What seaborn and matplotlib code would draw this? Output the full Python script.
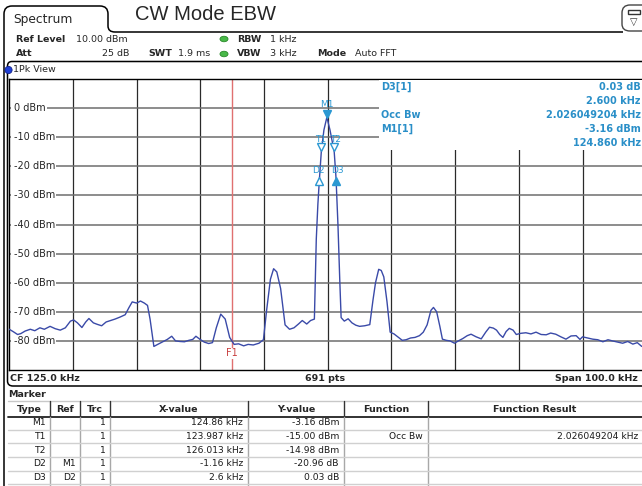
import numpy as np
import pandas as pd
import seaborn as sns
import matplotlib.pyplot as plt
from matplotlib.path import Path
from matplotlib.patches import PathPatch, Rectangle, Circle, Ellipse
from matplotlib.transforms import offset_copy

# trace 1 (peak detector)
freq_khz = [75.0, 75.6, 76.3, 76.8, 77.5, 78.3, 79.0, 79.8, 80.5, 81.4,
            82.2, 83.0, 83.8, 84.6, 85.1, 85.7, 86.4, 87.0, 87.5, 88.2,
            88.8, 89.5, 90.2, 90.9, 91.6, 92.4, 93.2, 93.8, 94.3, 95.0,
            95.6, 96.2, 96.7, 97.1, 97.7, 98.3, 99.2, 99.8, 100.5, 101.1,
            101.8, 102.5, 103.2, 103.8, 104.3, 104.9, 105.6, 106.3, 106.9, 107.5,
            108.2, 108.9, 109.6, 110.3, 111.0, 111.8, 112.5, 113.3, 114.2, 114.9,
            115.4, 116.0, 116.5, 117.0, 117.6, 118.3, 119.0, 119.7, 120.4, 121.0,
            121.7, 122.3, 122.9, 123.2, 123.45, 123.7, 123.987, 124.4, 124.86, 125.35,
            126.013, 126.3, 126.6, 126.9, 127.1, 127.6, 128.2, 128.8, 129.4, 130.0,
            130.8, 131.6, 132.1, 132.5, 133.0, 133.4, 133.8, 134.3, 134.8, 135.4,
            136.0, 136.7, 137.3, 138.0, 138.7, 139.4, 140.0, 140.6, 141.2, 141.6,
            142.1, 142.6, 143.0, 143.6, 144.2, 144.9, 145.5, 146.2, 146.9, 147.5,
            148.3, 149.1, 149.8, 150.4, 151.0, 151.5, 152.0, 152.5, 153.0, 153.5,
            154.1, 154.6, 155.3, 156.1, 156.9, 157.7, 158.5, 159.3, 160.0, 160.8,
            161.6, 162.4, 163.2, 164.0, 164.6, 165.0, 165.8, 166.6, 167.4, 168.2,
            169.0, 169.7, 170.5, 171.3, 172.1, 172.9, 173.6, 174.3]
level_dbm = [-76.0, -76.8, -77.8, -77.5, -76.6, -76.0, -76.5, -75.5, -76.0, -75.0,
             -75.8, -76.3, -75.5, -73.2, -72.8, -73.8, -75.4, -73.5, -72.3, -73.8,
             -74.3, -74.8, -73.5, -73.0, -72.5, -71.8, -71.0, -68.5, -66.6, -67.0,
             -66.3, -67.0, -67.8, -72.5, -81.9, -81.2, -80.2, -79.5, -78.4, -80.0,
             -80.2, -80.3, -79.8, -79.5, -78.4, -79.4, -80.4, -80.9, -80.6, -75.5,
             -70.8, -72.5, -78.8, -81.2, -81.0, -81.7, -81.2, -81.4, -80.8, -79.6,
             -69.5, -58.8, -55.2, -56.3, -62.0, -74.5, -76.0, -75.5, -74.2, -73.0,
             -74.2, -73.0, -72.5, -45.0, -33.0, -24.12, -15.0, -7.5, -3.16, -7.5,
             -14.98, -24.09, -40.0, -60.0, -72.0, -73.2, -72.4, -73.8, -74.6, -75.0,
             -74.8, -74.4, -66.0, -60.0, -55.4, -55.8, -58.0, -66.5, -77.0, -77.6,
             -78.6, -79.8, -79.6, -79.0, -78.8, -78.2, -77.0, -74.5, -69.5, -68.5,
             -70.0, -75.0, -79.4, -79.8, -80.0, -80.8, -80.0, -79.2, -78.2, -77.7,
             -78.6, -79.3, -77.0, -75.3, -75.6, -76.3, -77.8, -78.8, -76.8, -75.7,
             -76.3, -77.8, -77.4, -77.2, -77.6, -77.0, -77.8, -77.9, -77.3, -77.7,
             -78.6, -79.4, -78.3, -78.2, -79.5, -78.6, -79.0, -79.4, -79.6, -80.3,
             -79.6, -80.0, -80.4, -80.8, -80.2, -81.1, -80.6, -81.9]

marker_names = ['M1', 'T1', 'T2', 'D2', 'D3']
marker_freq = [124.86, 123.987, 126.013, 123.70, 126.30]
marker_level = [-3.16, -15.00, -14.98, -24.12, -24.09]
f1_khz = 110.0

grid_freq = [85, 95, 105, 115, 125, 135, 145, 155, 165]
grid_level = [0, -10, -20, -30, -40, -50, -60, -70, -80]

info_left = ['D3[1]', '', 'Occ Bw', 'M1[1]', '']
info_right = ['0.03 dB', '2.600 kHz', '2.026049204 kHz', '-3.16 dBm', '124.860 kHz']

tbl_header = ['Type', 'Ref', 'Trc', 'X-value', 'Y-value', 'Function', 'Function Result']
tbl_type = ['M1', 'T1', 'T2', 'D2', 'D3']
tbl_ref = ['', '', '', 'M1', 'D2']
tbl_trc = ['1', '1', '1', '1', '1']
tbl_x = ['124.86 kHz', '123.987 kHz', '126.013 kHz', '-1.16 kHz', '2.6 kHz']
tbl_y = ['-3.16 dBm', '-15.00 dBm', '-14.98 dBm', '-20.96 dB', '0.03 dB']
tbl_func = ['', 'Occ Bw', '', '', '']
tbl_result = ['', '2.026049204 kHz', '', '', '']

sns.set_style('white')
plt.rcParams['font.family'] = ['DejaVu Sans']

W, H = 642, 486
fig = plt.figure(figsize=(6.42, 4.86), dpi=100)

# spectrum area in pixel terms: x 9.3..642, y 79..370
ax = fig.add_axes([9.3 / W, (H - 370) / H, (W - 9.3) / W, 291 / H])
ax.set_zorder(1)
ax.set_xlim(75, 174.34)
ax.set_ylim(-90, 10)
ax.set_xticks([])
ax.set_yticks([])
for s in ['top', 'left', 'bottom']:
    ax.spines[s].set_color('black')
    ax.spines[s].set_linewidth(1.0)
ax.spines['right'].set_visible(False)

for f in grid_freq:
    ax.axvline(f, color='#2a2a2a', lw=0.9, zorder=1)
for lv in grid_level:
    ax.axhline(lv, color='#6e6e6e', lw=1.1, zorder=1)

ax.axvline(f1_khz, color='#e07070', lw=1.0, zorder=2)
ax.text(f1_khz, -84.3, 'F1', ha='center', va='center', color='#c84040', fontsize=7,
        zorder=3, bbox=dict(fc='white', ec='none', pad=0.4))

# level labels sit inside the grid and hide the start of each line
ytr = ax.get_yaxis_transform()
for lv in grid_level:
    ax.add_patch(Rectangle((0.002, lv - 2.2), 0.009, 4.4, transform=ytr,
                           fc='white', ec='none', zorder=2))
    ax.text(0.0075, lv, f'{lv} dBm', transform=ytr, ha='left', va='center', fontsize=7,
            zorder=3, bbox=dict(fc='white', ec='none', pad=0.8))

sns.lineplot(x=freq_khz, y=level_dbm, ax=ax, color='#3a4aa8', lw=1.0, zorder=4)

# marker symbols
mk_col = '#2b98d2'
styles = {
    'M1': ('v', True, 3.5, 13.0, 0),
    'T1': ('v', False, 4.5, 12.5, -1),
    'T2': ('v', False, 4.5, 12.5, 1),
    'D2': ('^', False, -2.5, 7.5, -1),
    'D3': ('^', True, -2.5, 7.5, 1),
}
for name, f, lv in zip(marker_names, marker_freq, marker_level):
    sym, filled, dy, dyl, dxl = styles[name]
    tr = offset_copy(ax.transData, fig=fig, x=0, y=dy, units='dots')
    ax.plot([f], [lv], marker=sym, ms=5.5, mec=mk_col, mfc=mk_col if filled else 'white',
            mew=1.0, transform=tr, zorder=5, ls='none')
    trl = offset_copy(ax.transData, fig=fig, x=dxl, y=dyl, units='dots')
    ax.text(f, lv, name, transform=trl, ha='center', va='center', color=mk_col,
            fontsize=6.5, zorder=5)

# overlay in pixel coordinates for the instrument frame
ov = fig.add_axes([0, 0, 1, 1])
ov.set_zorder(2)
ov.set_xlim(0, W)
ov.set_ylim(H, 0)
ov.axis('off')

M, L, C = Path.MOVETO, Path.LINETO, Path.CURVE3
tab = Path([(4, 486), (4, 14), (4, 6), (12, 6), (100, 6), (108, 6), (108, 14),
            (108, 26), (108, 32), (115, 32), (623, 32)],
           [M, L, C, C, L, C, C, L, C, C, L])
ov.add_patch(PathPatch(tab, fill=False, ec='black', lw=1.1))
box = Path([(650, 61.5), (12, 61.5), (7.5, 61.5), (7.5, 66), (7.5, 381), (7.5, 386),
            (13, 386), (650, 386)],
           [M, L, C, C, L, C, C, L])
ov.add_patch(PathPatch(box, fill=False, ec='black', lw=1.1))

# icon at top right
icon = Path([(650, 5), (630, 5), (622, 5), (622, 13), (622, 24), (622, 31), (630, 31), (650, 31)],
            [M, L, C, C, L, C, C, L])
ov.add_patch(PathPatch(icon, fill=False, ec='#444444', lw=1.0))
ov.add_patch(Rectangle((628, 10), 12, 4, fc='white', ec='#333333', lw=1.0))
ov.text(634, 22, '\u25bd', ha='center', va='center', fontsize=7, color='#333333')

ov.text(13, 20, 'Spectrum', ha='left', va='center', fontsize=8.8)
ov.text(135, 15, 'CW Mode EBW', ha='left', va='center', fontsize=14.5,
        family=['Liberation Sans', 'DejaVu Sans'])

hdr = 6.8
ov.text(16, 39, 'Ref Level', fontsize=hdr, weight='bold', va='center')
ov.text(76, 39, '10.00 dBm', fontsize=hdr, va='center')
ov.text(16, 54, 'Att', fontsize=hdr, weight='bold', va='center')
ov.text(129, 54, '25 dB', fontsize=hdr, va='center', ha='right')
ov.text(148, 54, 'SWT', fontsize=hdr, weight='bold', va='center')
ov.text(178, 54, '1.9 ms', fontsize=hdr, va='center')
for yy in (39, 54):
    ov.add_patch(Ellipse((224, yy), 8, 5.5, fc='#48b848', ec='#2a8a2a', lw=0.6))
ov.text(237, 39, 'RBW', fontsize=hdr, weight='bold', va='center')
ov.text(270, 39, '1 kHz', fontsize=hdr, va='center')
ov.text(237, 54, 'VBW', fontsize=hdr, weight='bold', va='center')
ov.text(270, 54, '3 kHz', fontsize=hdr, va='center')
ov.text(317, 54, 'Mode', fontsize=hdr, weight='bold', va='center')
ov.text(355, 54, 'Auto FFT', fontsize=hdr, va='center')

ov.add_patch(Circle((8.5, 70), 3.6, fc='#1f3fd6', ec='#10208a', lw=0.6, zorder=3))
ov.text(13, 70, '1Pk View', fontsize=6.8, va='center')

# marker info block over the grid
ov.add_patch(Rectangle((379, 80), 270, 70, fc='white', ec='none'))
info_col = '#2a8fc8'
for i, (lt, rt) in enumerate(zip(info_left, info_right)):
    yy = 86.5 + i * 14.1
    if lt:
        ov.text(381, yy, lt, fontsize=7, weight='bold', color=info_col, va='center')
    ov.text(641, yy, rt, fontsize=7, weight='bold', color=info_col, va='center', ha='right')

ov.text(10, 378, 'CF 125.0 kHz', fontsize=6.8, weight='bold', va='center')
ov.text(325, 378, '691 pts', fontsize=6.8, weight='bold', va='center', ha='center')
ov.text(638, 378, 'Span 100.0 kHz', fontsize=6.8, weight='bold', va='center', ha='right')

ov.text(8, 394, 'Marker', fontsize=6.8, weight='bold', va='center')

# marker table
col_edges = [8, 50, 80, 110, 248, 344, 428, 650]
row_y = [422.7, 436.4, 450.1, 463.8, 477.5]
ov.plot([8, 650], [400.5, 400.5], color='#c8c8c8', lw=1.0)
ov.plot([8, 650], [416.5, 416.5], color='#222222', lw=1.3)
for x in col_edges[1:-1]:
    ov.plot([x, x], [401, 416], color='#333333', lw=1.0)
    ov.plot([x, x], [417, 486], color='#a8a8a8', lw=1.0)
for yy in row_y:
    ov.plot([8, 650], [yy + 6.85, yy + 6.85], color='#d0d0d0', lw=1.0)

for i, h in enumerate(tbl_header):
    xc = (col_edges[i] + min(col_edges[i + 1], 642)) / 2
    ov.text(xc, 409.5, h, fontsize=6.8, weight='bold', ha='center', va='center')

right_x = [46, 76, 106, 243, 339, 423, 638]
cols = [tbl_type, tbl_ref, tbl_trc, tbl_x, tbl_y, tbl_func, tbl_result]
for xr, col in zip(right_x, cols):
    for yy, val in zip(row_y, col):
        if val:
            ov.text(xr, yy, val, fontsize=6.6, ha='right', va='center', color='#1a1a1a')

fig.savefig('out.png', dpi=100)
